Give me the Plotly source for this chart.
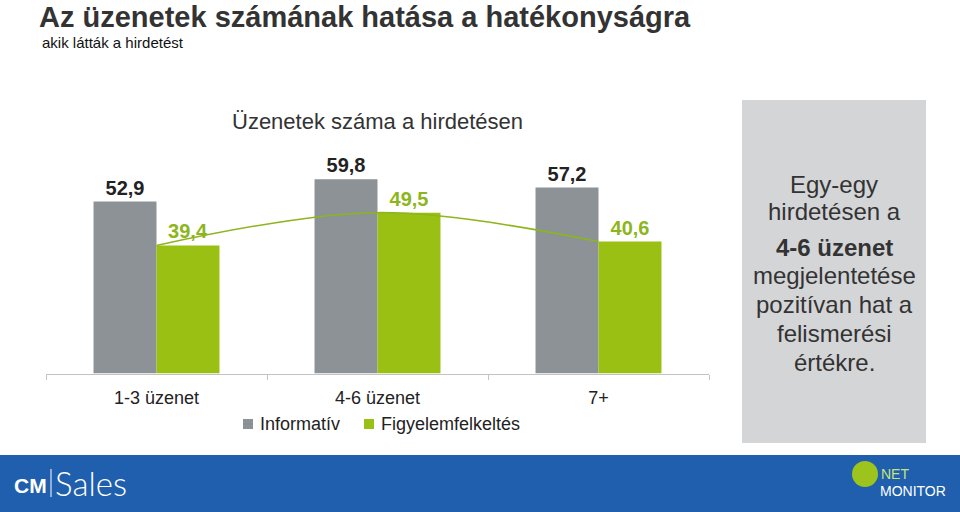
import plotly.graph_objects as go

W, H = 960, 512

categories = ["1-3 üzenet", "4-6 üzenet", "7+"]
informativ = [52.9, 59.8, 57.2]
figyelem = [39.4, 49.5, 40.6]
series_names = ["Informatív", "Figyelemfelkeltés"]

title = "Az üzenetek számának hatása a hatékonyságra"
subtitle = "akik látták a hirdetést"
chart_header = "Üzenetek száma a hirdetésen"
panel_lines = ["Egy-egy", "hirdetésen a", "<b>4-6 üzenet</b>", "megjelentetése",
               "pozitívan hat a", "felismerési", "értékre."]

GRAY = "#8d9296"
GREEN = "#99c013"
GREEN_TXT = "#8db51c"
DARK = "#333333"
FONT = "Liberation Sans, Arial, sans-serif"

def py(p):
    return 1 - p / H

def px(p):
    return p / W

xpos = list(range(len(categories)))
bw = 0.285

fig = go.Figure()
fig.add_trace(go.Bar(
    x=xpos, y=informativ, name=series_names[0], width=bw, offset=-bw,
    marker=dict(color=GRAY, line=dict(width=0)),
    texttemplate="%{y:.1f}", textposition="outside", cliponaxis=False,
    textfont=dict(family=FONT, size=20, color="#222222", weight="bold"),
    showlegend=False,
))
fig.add_trace(go.Bar(
    x=xpos, y=figyelem, name=series_names[1], width=bw, offset=0,
    marker=dict(color=GREEN, line=dict(width=0)),
    texttemplate="%{y:.1f}", textposition="outside", cliponaxis=False,
    textfont=dict(family=FONT, size=20, color=GREEN_TXT, weight="bold"),
    showlegend=False,
))
fig.add_trace(go.Scatter(
    x=xpos, y=figyelem, mode="lines", line=dict(color=GREEN_TXT, width=1.5, shape="spline"),
    showlegend=False, hoverinfo="skip", cliponaxis=False,
))

ybot = (H - 373.5) / H
ymax = 72
ytop = ybot + ymax * 3.25 / H
xdom = [px(46), px(709)]

fig.update_layout(
    width=W, height=H, margin=dict(l=0, r=0, t=0, b=0),
    paper_bgcolor="white", plot_bgcolor="rgba(0,0,0,0)",
    separators=",.",
    barmode="overlay",
    font=dict(family=FONT, color=DARK),
    xaxis=dict(domain=xdom, range=[-0.5, 2.5], tickvals=xpos, ticktext=categories,
               showline=True, linecolor="#c3c3c3", linewidth=1, ticks="",
               showgrid=False, zeroline=False, fixedrange=True,
               tickfont=dict(size=18, color="#222222"), ticklabelstandoff=8),
    xaxis2=dict(overlaying="x", anchor="y", domain=xdom, range=[-0.5, 2.5],
                tickvals=[-0.5, 0.5, 1.5, 2.5], ticks="outside", ticklen=5,
                tickcolor="#c3c3c3", showticklabels=False, showgrid=False,
                zeroline=False, showline=False, side="bottom"),
    yaxis=dict(domain=[ybot, ytop], range=[0, ymax], visible=False, fixedrange=True),
    showlegend=False,
)
fig.add_trace(go.Scatter(x=[None], y=[None], xaxis="x2", showlegend=False, hoverinfo="skip"))

shapes = [
    dict(type="rect", xref="paper", yref="paper", x0=px(742), x1=px(926), y0=py(443), y1=py(100),
         fillcolor="#d4d5d7", line=dict(width=0), layer="below"),
    dict(type="rect", xref="paper", yref="paper", x0=0, x1=1, y0=0, y1=py(455),
         fillcolor="#1f5fae", line=dict(width=0), layer="below"),
    dict(type="line", xref="paper", yref="paper", x0=px(51), x1=px(51), y0=py(469), y1=py(497),
         line=dict(color="white", width=1)),
    dict(type="circle", xref="paper", yref="paper", x0=px(852), x1=px(878), y0=py(487), y1=py(461),
         fillcolor="#9cc41c", line=dict(width=0)),
]

annotations = [
    dict(text=f"<b>{title}</b>", x=px(38), y=1, xanchor="left", yanchor="top", borderpad=0,
         font=dict(size=29, color=DARK)),
    dict(text=subtitle, x=px(40), y=py(42), xanchor="left", yanchor="middle",
         font=dict(size=15, color="#111111")),
    dict(text=chart_header, x=px(377), y=py(121), xanchor="center", yanchor="middle",
         font=dict(size=22, color=DARK)),
    dict(text="<b>CM</b>", x=px(12), y=py(485), xanchor="left", yanchor="middle",
         font=dict(size=21, color="white")),
    dict(text="Sales", x=px(53), y=py(483), xanchor="left", yanchor="middle",
         font=dict(size=33, color="white", family="Lato, Liberation Sans, sans-serif", weight=300)),
    dict(text="NET", x=px(879), y=py(474), xanchor="left", yanchor="middle",
         font=dict(size=14, color="#c6e27a")),
    dict(text="MONITOR", x=px(878), y=py(491), xanchor="left", yanchor="middle",
         font=dict(size=14, color="white")),
]

# legend (manual, to match the reference spacing)
legend_items = [(series_names[0], GRAY, 243), (series_names[1], GREEN, 364)]
for name, col, lx in legend_items:
    shapes.append(dict(type="rect", xref="paper", yref="paper", x0=px(lx), x1=px(lx + 10),
                       y0=py(429), y1=py(419), fillcolor=col, line=dict(width=0)))
    annotations.append(dict(text=name, x=px(lx + 15), y=py(424), xanchor="left", yanchor="middle",
                            font=dict(size=18, color="#222222")))

line_y = [184, 211, 247, 275, 304, 333, 362]
for t, yy in zip(panel_lines, line_y):
    annotations.append(dict(text=t, x=px(834), y=py(yy), xanchor="center", yanchor="middle",
                            font=dict(size=24, color=DARK)))
for a in annotations:
    a.update(xref="paper", yref="paper", showarrow=False)

fig.update_layout(shapes=shapes, annotations=annotations)
fig.write_html("out.html")
